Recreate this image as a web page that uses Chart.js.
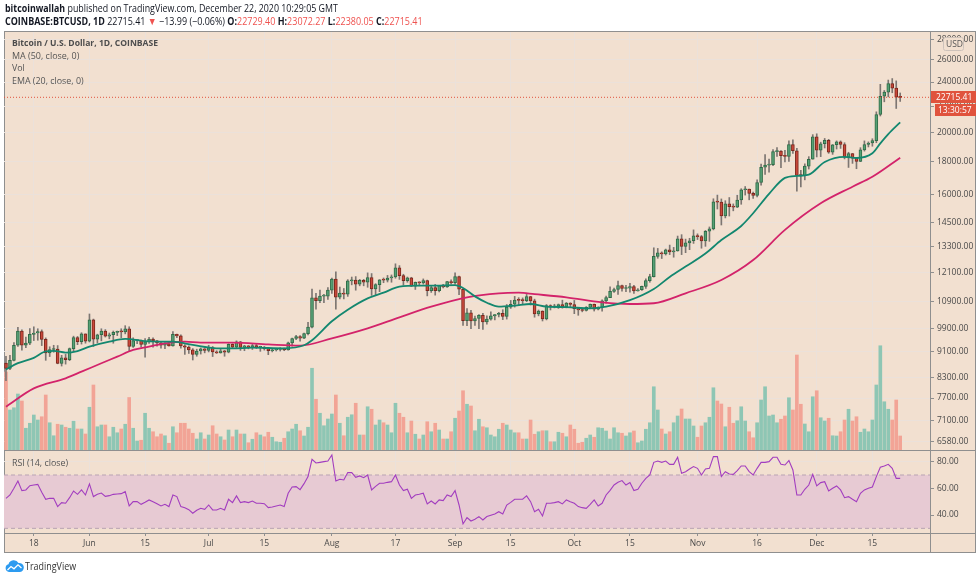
<!DOCTYPE html>
<html>
<head>
<meta charset="utf-8">
<title>BTCUSD 1D</title>
<script src="https://cdn.jsdelivr.net/npm/chart.js@4.4.1/dist/chart.umd.min.js"></script>
<style>
  html, body { margin: 0; padding: 0; background: #fff; }
  body { position: relative; width: 980px; height: 580px; overflow: hidden; font-family: "Open Sans", sans-serif; color: #131722; }
  #frame { position: absolute; left: 4px; top: 31px; width: 970px; height: 520px; background: #f2e0d0; border: 1px solid #8f8f8f; }
  #chart { position: absolute; left: 0; top: 0; }
  .txt { position: absolute; white-space: nowrap; transform-origin: 0 50%; }
  .red { color: #ef5350; }
  .leg { color: #555; font-size: 9.5px; line-height: 12px; }
</style>
</head>
<body>
<div id="frame"></div>
<canvas id="chart" width="980" height="580"></canvas>

<div class="txt" data-w="333" style="left:5px;top:2px;font-size:10.5px;line-height:12px;"><b>bitcoinwallah</b> published on TradingView.com, December 22, 2020 10:29:05 GMT</div>
<div class="txt" data-w="418" style="left:5px;top:15px;font-size:10.5px;line-height:12px;"><b>COINBASE:BTCUSD, 1D</b> 22715.41 <span class="red">&#9660;</span> &minus;13.99 (&minus;0.06%) <b>O:</b><span class="red">22729.40</span> <b>H:</b><span class="red">23072.27</span> <b>L:</b><span class="red">22380.05</span> <b>C:</b><span class="red">22715.41</span></div>

<div class="txt leg" data-w="146" style="left:12px;top:37px;font-weight:bold;color:#4d4d4d;">Bitcoin / U.S. Dollar, 1D, COINBASE</div>
<div class="txt leg" data-w="67" style="left:12px;top:50px;">MA (50, close, 0)</div>
<div class="txt leg" data-w="13" style="left:12px;top:62px;">Vol</div>
<div class="txt leg" data-w="72" style="left:12px;top:75px;">EMA (20, close, 0)</div>
<div class="txt leg" data-w="56" style="left:12px;top:457px;">RSI (14, close)</div>

<svg style="position:absolute;left:5px;top:559px" width="19" height="13" viewBox="0 0 19 13">
  <path d="M4 13 A4 4 0 0 1 3.5 5.2 A5.5 5.5 0 0 1 13.5 4 A4.5 4.5 0 0 1 15 13 Z" fill="#2d9bf0"/>
  <path d="M2.5 11 L6 7.5 L9 9.8 L13 5.8 L16.5 9" stroke="#fff" stroke-width="1.3" fill="none"/>
</svg>
<div class="txt" data-w="51" style="left:25px;top:560px;font-size:10.5px;line-height:12px;color:#333;">TradingView</div>

<script>
// daily candles, 2020-05-11 .. 2020-12-22 (index 0 = May 11)
const opens = [
  8730, 8570, 8820, 9310, 9800, 9310, 9380, 9680, 9730, 9780,
  9510, 9060, 9170, 9180, 8720, 8900, 8840, 9200, 9570, 9430,
  9700, 9450, 10200, 9520, 9670, 9800, 9620, 9670, 9750, 9780,
  9770, 9880, 9270, 9470, 9480, 9340, 9430, 9520, 9460, 9390,
  9310, 9360, 9290, 9680, 9630, 9290, 9250, 9160, 9010, 9120,
  9190, 9140, 9230, 9090, 9060, 9130, 9080, 9340, 9250, 9430,
  9240, 9290, 9240, 9300, 9240, 9250, 9200, 9130, 9160, 9170,
  9210, 9160, 9390, 9540, 9610, 9550, 9710, 9940, 11040, 10930,
  11110, 11110, 11350, 11810, 11070, 11230, 11190, 11740, 11770, 11600,
  11760, 11680, 11880, 11400, 11580, 11780, 11770, 11860, 11910, 12300,
  11960, 11750, 11870, 11520, 11680, 11650, 11750, 11330, 11460, 11330,
  11540, 11480, 11710, 11660, 11920, 11390, 10170, 10460, 10160, 10250,
  10370, 10130, 10230, 10350, 10400, 10440, 10330, 10680, 10790, 10950,
  10940, 10930, 11090, 10920, 10420, 10530, 10240, 10740, 10690, 10730,
  10780, 10700, 10840, 10780, 10620, 10570, 10550, 10670, 10790, 10600,
  10670, 10920, 11050, 11300, 11380, 11540, 11420, 11430, 11500, 11320,
  11370, 11510, 11750, 11920, 12820, 12980, 12930, 13120, 13030, 13070,
  13650, 13280, 13460, 13560, 13800, 13760, 13550, 14030, 14150, 15590,
  15580, 14830, 15480, 15330, 15300, 15700, 16290, 16330, 16080, 15960,
  16720, 17660, 17800, 17820, 18680, 18720, 18420, 18370, 19170, 18740,
  17150, 17140, 17730, 18180, 19700, 18780, 19220, 19450, 18650, 19150,
  19360, 19170, 18320, 18550, 18250, 18040, 18800, 19170, 19270, 19440,
  21350, 22800, 23140, 23860, 23480, 22729.40
];
const highs = [
  8950, 8980, 9400, 9930, 9840, 9590, 9890, 9950, 9880, 9840,
  9560, 9260, 9310, 9300, 8980, 9010, 9220, 9620, 9610, 9740,
  9700, 10420, 10230, 9690, 9880, 9850, 9730, 9800, 9800, 9880,
  9990, 9950, 9560, 9490, 9490, 9540, 9580, 9560, 9480, 9440,
  9400, 9420, 9780, 9690, 9670, 9330, 9290, 9200, 9180, 9220,
  9200, 9310, 9270, 9130, 9190, 9140, 9360, 9360, 9460, 9440,
  9310, 9300, 9340, 9340, 9280, 9270, 9210, 9190, 9200, 9230,
  9220, 9420, 9550, 9650, 9640, 9730, 10110, 11400, 11220, 11350,
  11180, 11460, 11860, 12120, 11480, 11420, 11790, 11900, 11920, 11800,
  11800, 12080, 12050, 11620, 11790, 11860, 11970, 11990, 12480, 12400,
  12020, 11900, 11890, 11690, 11700, 11820, 11770, 11540, 11590, 11550,
  11590, 11720, 11780, 12080, 11940, 11420, 10620, 10560, 10340, 10400,
  10440, 10350, 10500, 10400, 10480, 10580, 10780, 10940, 11100, 11050,
  11040, 11180, 11100, 10990, 10570, 10540, 10780, 10770, 10790, 10800,
  10950, 10860, 10850, 10940, 10670, 10600, 10700, 10800, 10800, 10690,
  10960, 11110, 11490, 11440, 11730, 11560, 11550, 11630, 11550, 11420,
  11520, 11820, 12020, 13220, 13190, 13030, 13160, 13350, 13240, 13790,
  13860, 13640, 13680, 14100, 13900, 13820, 14070, 14250, 15770, 15980,
  15760, 15660, 15840, 15480, 15970, 16350, 16480, 16330, 16150, 16880,
  17860, 18480, 18190, 18820, 18960, 18760, 18770, 19420, 19490, 18900,
  17470, 17880, 18350, 19860, 19920, 19330, 19590, 19530, 19170, 19420,
  19420, 19290, 18640, 18560, 18290, 18950, 19420, 19350, 19570, 21560,
  23800, 23280, 24170, 24300, 24100, 23072.27
];
const lows = [
  8200, 8530, 8800, 9270, 9150, 9230, 9330, 9470, 9480, 9300,
  8820, 8940, 9080, 8710, 8640, 8700, 8810, 9110, 9330, 9350,
  9380, 9420, 9270, 9390, 9460, 9590, 9530, 9380, 9640, 9570,
  9700, 9100, 9240, 9360, 9250, 8920, 9370, 9250, 9280, 9210,
  9200, 9280, 9280, 9570, 9210, 9010, 9040, 8830, 8950, 9020,
  9060, 9090, 8940, 9040, 9050, 8950, 9060, 9200, 9230, 9140,
  9130, 9190, 9170, 9200, 9110, 9150, 9000, 9090, 9120, 9120,
  9130, 9150, 9280, 9500, 9450, 9530, 9660, 9910, 10600, 10850,
  10850, 10980, 11220, 10600, 11000, 11000, 11100, 11570, 11350, 11530,
  11530, 11470, 11140, 11150, 11290, 11660, 11690, 11680, 11850, 11800,
  11560, 11680, 11500, 11380, 11530, 11600, 11120, 11260, 11150, 11280,
  11440, 11460, 11600, 11600, 11170, 10000, 9990, 9880, 10000, 9880,
  9860, 10040, 10190, 10200, 10310, 10210, 10230, 10630, 10680, 10750,
  10810, 10890, 10760, 10300, 10350, 10160, 10200, 10570, 10650, 10630,
  10640, 10650, 10670, 10430, 10370, 10500, 10530, 10630, 10530, 10570,
  10530, 10830, 11050, 11260, 11180, 11310, 11290, 11270, 11220, 11310,
  11340, 11420, 11680, 11900, 12730, 12720, 12880, 12900, 12780, 13060,
  12900, 12990, 13130, 13430, 13620, 13200, 13290, 13530, 14100, 15200,
  14350, 14720, 14820, 15100, 15280, 15460, 15980, 15710, 15790, 15880,
  16560, 17210, 17350, 17760, 18360, 17640, 18000, 18030, 18570, 16200,
  16460, 16880, 17550, 18180, 18330, 18350, 18930, 18570, 18500, 18860,
  18900, 18200, 17650, 17910, 17570, 18020, 18720, 19000, 19050, 19290,
  21240, 22350, 22750, 23090, 21820, 22380.05
];
const closes = [
  8570, 8820, 9310, 9800, 9310, 9380, 9680, 9730, 9780, 9510,
  9060, 9170, 9180, 8720, 8900, 8840, 9200, 9570, 9430, 9700,
  9450, 10200, 9520, 9670, 9800, 9620, 9670, 9750, 9780, 9770,
  9880, 9270, 9470, 9480, 9340, 9430, 9520, 9460, 9390, 9310,
  9360, 9290, 9680, 9630, 9290, 9250, 9160, 9010, 9120, 9190,
  9140, 9230, 9090, 9060, 9130, 9080, 9340, 9250, 9430, 9240,
  9290, 9240, 9300, 9240, 9250, 9200, 9130, 9160, 9170, 9210,
  9160, 9390, 9540, 9610, 9550, 9710, 9940, 11040, 10930, 11110,
  11110, 11350, 11810, 11070, 11230, 11190, 11740, 11770, 11600, 11760,
  11680, 11880, 11400, 11580, 11780, 11770, 11860, 11910, 12300, 11960,
  11750, 11870, 11520, 11680, 11650, 11750, 11330, 11460, 11330, 11540,
  11480, 11710, 11660, 11920, 11390, 10170, 10460, 10160, 10250, 10370,
  10130, 10230, 10350, 10400, 10440, 10330, 10680, 10790, 10950, 10940,
  10930, 11090, 10920, 10420, 10530, 10240, 10740, 10690, 10730, 10780,
  10700, 10840, 10780, 10620, 10570, 10550, 10670, 10790, 10600, 10670,
  10920, 11050, 11300, 11380, 11540, 11420, 11430, 11500, 11320, 11370,
  11510, 11750, 11920, 12820, 12980, 12930, 13120, 13030, 13070, 13650,
  13280, 13460, 13560, 13800, 13760, 13550, 14030, 14150, 15590, 15580,
  14830, 15480, 15330, 15300, 15700, 16290, 16330, 16080, 15960, 16720,
  17660, 17800, 17820, 18680, 18720, 18420, 18370, 19170, 18740, 17150,
  17140, 17730, 18180, 19700, 18780, 19220, 19450, 18650, 19150, 19360,
  19170, 18320, 18550, 18250, 18040, 18800, 19170, 19270, 19440, 21350,
  22800, 23140, 23860, 23480, 22730, 22715.41
];
// volume in BTC
const volumes = [
  31200, 16000, 16900, 22400, 19600, 8700, 10700, 14000, 12000, 13300,
  22000, 10900, 5700, 10300, 10000, 9100, 8700, 11500, 8400, 8400,
  6400, 17100, 26000, 9300, 10000, 10000, 5300, 9100, 6900, 8400,
  10300, 21000, 8700, 3600, 3900, 14700, 8700, 7300, 5300, 6400,
  5700, 2700, 9300, 6900, 10700, 10700, 8400, 6700, 4400, 6900,
  4400, 6000, 9700, 6400, 5300, 4000, 8000, 5300, 8000, 6400,
  6400, 2900, 4300, 6900, 6000, 5300, 7100, 5100, 3300, 3100,
  4700, 7300, 8400, 10300, 7700, 5600, 9100, 32700, 20300, 14700,
  9700, 12400, 14400, 22000, 10700, 5700, 13100, 14100, 18700, 6000,
  6000, 17300, 16300, 10000, 12000, 10900, 10000, 6900, 18700, 14700,
  13100, 6900, 11600, 6300, 4400, 6000, 11300, 7300, 10700, 8000,
  4400, 4400, 7300, 12700, 15600, 23700, 18300, 17600, 7700, 12300,
  9300, 8900, 6000, 5300, 8300, 10700, 10000, 8000, 6900, 6900,
  4400, 4400, 12000, 6300, 7300, 7700, 7700, 3300, 3300, 7100,
  6700, 5300, 10000, 8300, 2700, 3100, 4700, 6000, 5100, 8900,
  8700, 7600, 4400, 8900, 6900, 6700, 5600, 6900, 7600, 2900,
  3600, 8300, 10900, 25300, 16000, 8400, 6400, 7300, 10900, 13600,
  16400, 12400, 12400, 9600, 5100, 9600, 10900, 13100, 24900, 19600,
  18400, 9300, 17100, 10700, 11700, 17300, 11600, 7300, 4900, 10900,
  20000, 25300, 13600, 14000, 10900, 12300, 13600, 20900, 16000, 38000,
  18300, 10400, 7300, 21300, 23700, 12900, 11600, 12700, 5700, 5600,
  7300, 12000, 16300, 11600, 13300, 7100, 8400, 7300, 12000, 26000,
  41700, 19300, 16300, 12000, 20000, 5600
];
const rsiValues = [
  52.5, 55, 60, 65.5, 58.3, 58.8, 62, 62.5, 63, 57,
  51.8, 52.5, 52.5, 46.3, 49.3, 48.8, 53, 58, 55.5, 58.8,
  55, 63.3, 53.8, 55.5, 56.5, 54, 54.5, 55.5, 55.8, 56,
  57.5, 46.8, 50, 50, 48, 49.5, 51.3, 50, 48.5, 46.8,
  48, 46.3, 55, 53.8, 46.3, 45.5, 44, 41.3, 43.5, 45,
  44.3, 47.5, 43.8, 43.8, 45, 43.8, 51.8, 49.3, 54.3, 49.3,
  50, 49.3, 50.5, 48.8, 48.8, 48.5, 45.5, 46, 46.8, 47.5,
  46.3, 56.3, 61, 61.3, 59, 63.5, 68.8, 81.8, 79, 79.5,
  80, 80.5, 85, 65.5, 66.8, 66.3, 71.8, 71.8, 68.3, 69.3,
  68, 70, 58.8, 61.5, 63.8, 63.8, 64.5, 65, 70, 62.5,
  58.3, 59.3, 52.5, 55, 55.5, 56.3, 48.3, 50.5, 48.3, 51.3,
  50.8, 55, 53.8, 58.3, 47.5, 33.3, 38, 35.5, 36.8, 38.8,
  36.3, 38.8, 39.8, 40.8, 42.5, 40.8, 47.5, 49.5, 51.8, 51.8,
  51.8, 54.3, 50, 42.5, 44.3, 39.3, 48.8, 48.8, 49.3, 50,
  48.3, 51.3, 50, 48.8, 46.3, 45.5, 45, 48, 51.3, 46.8,
  48.8, 55, 58.5, 62.5, 64.5, 65.8, 62.5, 64.3, 58.3, 59.3,
  63.8, 67.5, 70, 79.5, 80.5, 79.5, 80.5, 78, 78, 83.3,
  71.3, 72.5, 74.5, 76.3, 75, 70, 74.5, 75, 83.8, 83.8,
  68.8, 72.5, 70.8, 70.5, 73.3, 76.8, 76.8, 72.5, 70, 75,
  79.5, 79.5, 80, 83.3, 83.3, 78, 77.5, 80.8, 73.8, 55,
  55, 59.3, 62.5, 70.5, 61.8, 64.3, 65, 58, 60, 61.8,
  58.8, 53, 53.8, 51.8, 50, 56.3, 58.8, 60, 61, 68.8,
  75.8, 76.8, 78, 75, 67.5, 67.5
];
// moving averages at selected days
const maDays = [0, 7, 15, 19, 24, 28, 32, 36, 40, 45, 49, 57, 66, 74, 82, 91, 99, 107, 116, 124, 129, 133, 141, 150, 157, 163, 171, 180, 188, 196, 205, 213, 218, 225];
const maValues = [7465, 7973, 8268, 8466, 8727, 8936, 9154, 9264, 9375, 9432, 9400, 9400, 9340, 9300, 9545, 9895, 10295, 10697, 11064, 11225, 11250, 11190, 11064, 10865, 10800, 10830, 11225, 11775, 12650, 14100, 15515, 16470, 17073, 18283];
const emaDays = [0, 3, 7, 10, 12, 15, 18, 21, 26, 30, 36, 42, 47, 53, 57, 62, 70, 75, 77, 82, 86, 91, 95, 99, 104, 108, 113, 115, 118, 121, 124, 128, 132, 136, 141, 147, 151, 157, 163, 167, 171, 176, 180, 185, 188, 192, 196, 199, 202, 206, 211, 214, 218, 220, 222, 225];
const emaValues = [8537, 8730, 8900, 9110, 9125, 9070, 9120, 9264, 9432, 9525, 9440, 9430, 9320, 9210, 9205, 9230, 9210, 9310, 9480, 10150, 10580, 11020, 11250, 11495, 11540, 11540, 11560, 11440, 11100, 10850, 10700, 10740, 10800, 10700, 10680, 10630, 10697, 10950, 11400, 11900, 12355, 12950, 13595, 14300, 14970, 16050, 17000, 17120, 17200, 18000, 18340, 18260, 18570, 19250, 19900, 20760];

const tickDays = [7, 21, 35, 51, 65, 82, 98, 113, 127, 143, 157, 174, 189, 204, 218];
const tickLabels = ['18', 'Jun', '15', 'Jul', '15', 'Aug', '17', 'Sep', '15', 'Oct', '15', 'Nov', '16', 'Dec', '15'];
const priceTicks = [6580, 7100, 7700, 8300, 9100, 9900, 10900, 12100, 13300, 14500, 16000, 18000, 20000, 22000, 24000, 26000, 28000];
const rsiTicks = [40, 60, 80];
const rsiBand = [30, 70];
const lastClose = 22715.41;
const countdown = '13:30:57';

const BG = '#f2e0d0';
const GRID = '#ebe1da';
const FRAME = '#8f8f8f';
const AXIS_TEXT = '#4a4a4a';
const UP = '#56a075', UP_EDGE = '#2f6b47';
const DN = '#c9483a', DN_EDGE = '#7c261c';
const WICK = '#7d7672';
const VOL_UP = '#8ec6b4', VOL_DN = '#f2a496';
const TAG_RED = '#e0533d';

const X_MIN = -0.5, X_MAX = 232.5;
const isUp = closes.map((c, i) => c >= opens[i]);
const axisFont = { family: "'Open Sans', sans-serif", size: 8.5 };

const fixedTicks = (list) => (scale) => { scale.ticks = list.map((v) => ({ value: v })); };

const paneFrame = {
  id: 'paneFrame',
  afterDraw(chart) {
    const { ctx, chartArea } = chart;
    const sep = Math.round(chart.scales.rsi.top) + 0.5;
    const bottom = Math.round(chartArea.bottom) + 0.5;
    const right = Math.round(chartArea.right) + 0.5;
    ctx.save();
    ctx.strokeStyle = FRAME;
    ctx.lineWidth = 1;
    ctx.beginPath();
    ctx.moveTo(4, sep); ctx.lineTo(976, sep);
    ctx.moveTo(4, bottom); ctx.lineTo(976, bottom);
    ctx.moveTo(right, 31); ctx.lineTo(right, 553);
    ctx.stroke();
    ctx.restore();
  }
};

const priceTag = {
  id: 'priceTag',
  afterDraw(chart) {
    const { ctx, chartArea, scales } = chart;
    const y = Math.round(scales.y.getPixelForValue(lastClose));
    const x = Math.round(chartArea.right);
    ctx.save();
    ctx.fillStyle = TAG_RED;
    ctx.fillRect(x + 1, y - 6, 45, 12);
    ctx.fillRect(x + 5, y + 7, 41, 12);
    ctx.fillStyle = '#fff';
    ctx.font = "8.5px 'Open Sans', sans-serif";
    ctx.textBaseline = 'middle';
    ctx.fillText(lastClose.toFixed(2), x + 6, y + 0.5);
    ctx.fillText(countdown, x + 8, y + 13.5);

    ctx.fillStyle = BG;
    ctx.strokeStyle = '#cdc2ba';
    ctx.beginPath();
    ctx.roundRect(x + 13.5, 37.5, 20, 13, 2);
    ctx.fill();
    ctx.stroke();
    ctx.fillStyle = '#555';
    ctx.fillText('USD', x + 16, 44.5);
    ctx.restore();
  }
};

new Chart(document.getElementById('chart'), {
  type: 'bar',
  data: {
    datasets: [
      {
        label: 'Vol',
        yAxisID: 'vol',
        data: volumes.map((v, i) => ({ x: i, y: v })),
        backgroundColor: isUp.map((u) => (u ? VOL_UP : VOL_DN)),
        barThickness: 3,
        grouped: false,
        order: 10,
      },
      {
        type: 'line',
        label: 'RSI upper band',
        yAxisID: 'rsi',
        data: [{ x: X_MIN, y: rsiBand[1] }, { x: X_MAX, y: rsiBand[1] }],
        borderColor: '#b9a3b3',
        borderDash: [4, 3],
        borderWidth: 1,
        pointRadius: 0,
        fill: '+1',
        backgroundColor: '#e7cad3',
        order: 9,
      },
      {
        type: 'line',
        label: 'RSI lower band',
        yAxisID: 'rsi',
        data: [{ x: X_MIN, y: rsiBand[0] }, { x: X_MAX, y: rsiBand[0] }],
        borderColor: '#b9a3b3',
        borderDash: [4, 3],
        borderWidth: 1,
        pointRadius: 0,
        fill: false,
        order: 8,
      },
      {
        label: 'Wicks',
        yAxisID: 'y',
        data: lows.map((l, i) => ({ x: i, y: [l, highs[i]] })),
        backgroundColor: WICK,
        barThickness: 1,
        grouped: false,
        order: 5,
      },
      {
        label: 'Bodies',
        yAxisID: 'y',
        data: opens.map((o, i) => ({ x: i, y: [o, closes[i]] })),
        backgroundColor: isUp.map((u) => (u ? UP : DN)),
        borderColor: isUp.map((u) => (u ? UP_EDGE : DN_EDGE)),
        borderWidth: 1,
        borderSkipped: false,
        barThickness: 3,
        minBarLength: 1,
        grouped: false,
        order: 4,
      },
      {
        type: 'line',
        label: 'Last price',
        yAxisID: 'y',
        data: [{ x: X_MIN, y: lastClose }, { x: X_MAX, y: lastClose }],
        borderColor: TAG_RED,
        borderDash: [1, 2],
        borderWidth: 1,
        pointRadius: 0,
        order: 3,
      },
      {
        type: 'line',
        label: 'MA 50',
        yAxisID: 'y',
        data: maDays.map((d, i) => ({ x: d, y: maValues[i] })),
        borderColor: '#d3236a',
        borderWidth: 1.8,
        pointRadius: 0,
        cubicInterpolationMode: 'monotone',
        order: 2,
      },
      {
        type: 'line',
        label: 'EMA 20',
        yAxisID: 'y',
        data: emaDays.map((d, i) => ({ x: d, y: emaValues[i] })),
        borderColor: '#13876f',
        borderWidth: 1.8,
        pointRadius: 0,
        cubicInterpolationMode: 'monotone',
        order: 1,
      },
      {
        type: 'line',
        label: 'RSI',
        yAxisID: 'rsi',
        data: rsiValues.map((v, i) => ({ x: i, y: v })),
        borderColor: '#a23dbf',
        borderWidth: 1.1,
        pointRadius: 0,
        order: 1,
      },
    ],
  },
  options: {
    responsive: false,
    animation: false,
    devicePixelRatio: 1,
    events: [],
    layout: { padding: { left: 4, top: 32, right: 4, bottom: 27 } },
    plugins: { legend: { display: false }, tooltip: { enabled: false } },
    scales: {
      x: {
        type: 'linear',
        min: X_MIN,
        max: X_MAX,
        offset: false,
        afterBuildTicks: fixedTicks(tickDays),
        afterFit: (s) => { s.height = 20; },
        ticks: {
          autoSkip: false,
          maxRotation: 0,
          padding: 2,
          font: axisFont,
          color: AXIS_TEXT,
          callback: (v) => tickLabels[tickDays.indexOf(v)] ?? '',
        },
        grid: { color: GRID, offset: false, tickLength: 3, tickColor: FRAME },
        border: { display: false },
      },
      y: {
        type: 'logarithmic',
        position: 'right',
        stack: 'panes',
        stackWeight: 418,
        min: 6388,
        max: 28730,
        afterBuildTicks: fixedTicks(priceTicks),
        afterFit: (s) => { s.width = 46; },
        ticks: { autoSkip: false, padding: 3, font: axisFont, color: AXIS_TEXT, callback: (v) => Number(v).toFixed(2) },
        grid: { color: GRID, tickLength: 4, tickColor: FRAME },
        border: { display: false },
      },
      rsi: {
        axis: 'y',
        type: 'linear',
        position: 'right',
        stack: 'panes',
        stackWeight: 83,
        min: 26.5,
        max: 88.75,
        afterBuildTicks: fixedTicks(rsiTicks),
        afterFit: (s) => { s.width = 46; },
        ticks: { autoSkip: false, padding: 3, font: axisFont, color: AXIS_TEXT, callback: (v) => Number(v).toFixed(2) },
        grid: { color: GRID, tickLength: 4, tickColor: FRAME },
        border: { display: false },
      },
      vol: {
        axis: 'y',
        type: 'linear',
        position: 'left',
        display: false,
        min: -33200,
        max: 167200,
      },
    },
  },
  plugins: [paneFrame, priceTag],
});

const fitText = () => document.querySelectorAll('[data-w]').forEach((el) => {
  el.style.transform = `scaleX(${el.dataset.w / el.offsetWidth})`;
});
fitText();
document.fonts.ready.then(fitText);
</script>
</body>
</html>
